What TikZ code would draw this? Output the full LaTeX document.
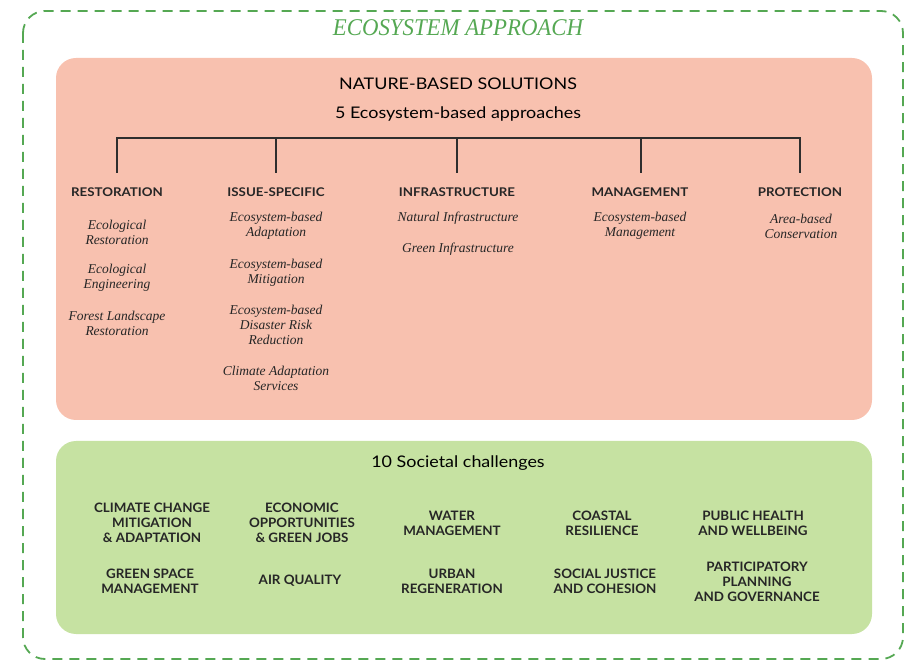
\documentclass[tikz,border=0pt]{standalone}
\usepackage{fontspec}
\setmainfont{Liberation Serif}
\newfontfamily\lato{Lato}
\usetikzlibrary{positioning}
\definecolor{nbsfill}{HTML}{F8C1AF}
\definecolor{socfill}{HTML}{C6E2A2}
\definecolor{ecogreen}{HTML}{55A853}
\definecolor{inkline}{HTML}{2E2E2E}
\begin{document}
\begin{tikzpicture}[x=1pt,y=-1pt,
  panel/.style={rounded corners=20pt, draw=none},
  title/.style={font={\lato\fontsize{16}{18}\selectfont}, text=black, xscale=1.12},
  head/.style={font={\lato\bfseries\fontsize{12}{14}\selectfont}, text=black!85, inner sep=0pt, xscale=1.11},
  item/.style={font={\itshape\fontsize{13.5}{15}\selectfont}, align=center, text=black!85, inner sep=0pt},
  chal/.style={font={\lato\bfseries\fontsize{13}{15}\selectfont}, align=center, text=black!85, inner sep=0pt, xscale=1.03},
  branch/.style={draw=inkline, line width=1.5pt}
]
\useasboundingbox (0,0) rectangle (906,660);

% outer frame of the ecosystem approach
\draw[ecogreen, line width=1.8pt, dash pattern=on 10pt off 7pt, rounded corners=22pt]
  (23,11) rectangle (903,659);
\node[font={\itshape\fontsize{24}{26}\selectfont}, text=ecogreen, xscale=0.95] (eco) at (458,28) {ECOSYSTEM APPROACH};

% panels
\fill[nbsfill, panel] (56,58) rectangle (872,420);
\fill[socfill, panel] (56,441) rectangle (872,634);

% nature-based solutions
\node[title] (nbs) at (458,84) {NATURE-BASED SOLUTIONS};
\node[title] (sub) at (458,114) {5 Ecosystem-based approaches};

\node[head] (h1) at (117,192.5) {RESTORATION};
\node[head] (h2) at (276,192.5) {ISSUE-SPECIFIC};
\node[head] (h3) at (457,192.5) {INFRASTRUCTURE};
\node[head] (h4) at (640,192.5) {MANAGEMENT};
\node[head] (h5) at (800,192.5) {PROTECTION};

\foreach \i/\x in {1/117,2/276,3/457,4/641,5/800}{
  \coordinate (t\i) at (\x,138);
  \coordinate (b\i) at (\x,173);
}
\draw[branch, line cap=rect] (t1) -- (t5);
\foreach \i in {1,...,5}{ \draw[branch] (t\i) -- (b\i); }

% restoration
\node[item] (r1) at (117,232) {Ecological\\Restoration};
\node[item] (r2) at (117,277.5) {Ecological\\Engineering};
\node[item] (r3) at (117,323.5) {Forest Landscape\\Restoration};
% issue-specific
\node[item] (i1) at (276,226) {Ecosystem-based\\Adaptation};
\node[item] (i2) at (276,272.5) {Ecosystem-based\\Mitigation};
\node[item] (i3) at (276,325) {Ecosystem-based\\Disaster Risk\\Reduction};
\node[item] (i4) at (276,378.5) {Climate Adaptation\\Services};
% infrastructure
\node[item] (f1) at (458,218) {Natural Infrastructure};
\node[item] (f2) at (458,249) {Green Infrastructure};
% management
\node[item] (m1) at (640,226) {Ecosystem-based\\Management};
% protection
\node[item] (p1) at (801,226) {Area-based\\Conservation};

% societal challenges
\node[title] (soc) at (458,463) {10 Societal challenges};

\node[chal] (c1) at (152,523) {CLIMATE CHANGE\\MITIGATION\\\&{} ADAPTATION};
\node[chal] (c2) at (302,523) {ECONOMIC\\OPPORTUNITIES\\\&{} GREEN JOBS};
\node[chal] (c3) at (452,523.5) {WATER\\MANAGEMENT};
\node[chal] (c4) at (602,523.5) {COASTAL\\RESILIENCE};
\node[chal] (c5) at (753,523.5) {PUBLIC HEALTH\\AND WELLBEING};

\node[chal] (c6) at (150,581.5) {GREEN SPACE\\MANAGEMENT};
\node[chal] (c7) at (300,581) {AIR QUALITY};
\node[chal] (c8) at (452,581.5) {URBAN\\REGENERATION};
\node[chal] (c9) at (605,581.5) {SOCIAL JUSTICE\\AND COHESION};
\node[chal] (c10) at (757,581.5) {PARTICIPATORY\\PLANNING\\AND GOVERNANCE};
\end{tikzpicture}
\end{document}
